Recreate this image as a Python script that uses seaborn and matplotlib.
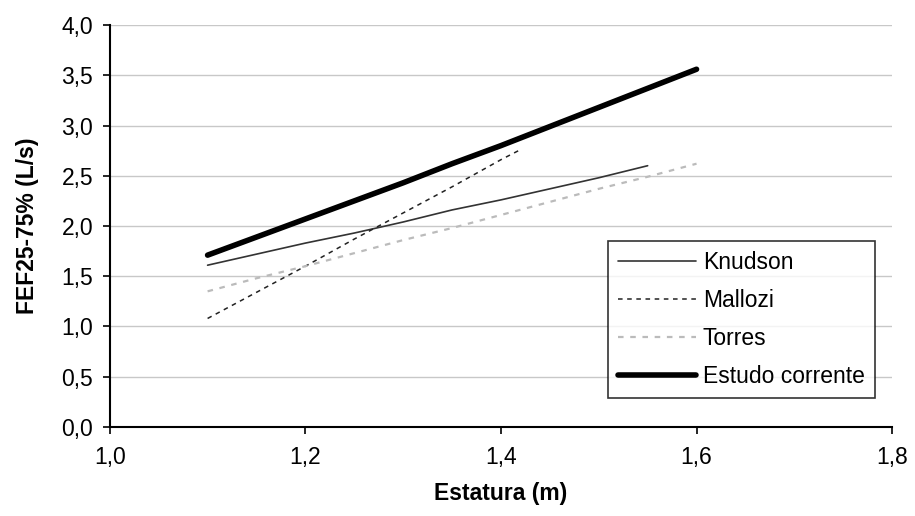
import numpy as np
import pandas as pd
import matplotlib
matplotlib.use('Agg')
import matplotlib.pyplot as plt
from matplotlib.ticker import FuncFormatter
import seaborn as sns

# values
knudson_x = [1.10, 1.15, 1.20, 1.25, 1.30, 1.35, 1.40, 1.45, 1.50, 1.55]
knudson_y = [1.61, 1.72, 1.83, 1.93, 2.04, 2.16, 2.26, 2.37, 2.48, 2.60]

mallozi_x = [1.10, 1.15, 1.20, 1.25, 1.30, 1.35, 1.40, 1.42]
mallozi_y = [1.08, 1.34, 1.60, 1.87, 2.13, 2.39, 2.66, 2.76]

torres_x = [1.10, 1.15, 1.20, 1.25, 1.30, 1.35, 1.40, 1.45, 1.50, 1.55, 1.60]
torres_y = [1.35, 1.48, 1.60, 1.73, 1.86, 1.98, 2.11, 2.24, 2.37, 2.49, 2.62]

estudo_x = [1.10, 1.15, 1.20, 1.25, 1.30, 1.35, 1.40, 1.45, 1.50, 1.55, 1.60]
estudo_y = [1.71, 1.89, 2.07, 2.25, 2.43, 2.62, 2.80, 2.99, 3.18, 3.37, 3.56]

sns.set_style("white")
plt.rcParams['font.family'] = ['Liberation Sans', 'DejaVu Sans']
plt.rcParams['text.color'] = 'black'
plt.rcParams['axes.labelcolor'] = 'black'
FS = 16.5

fig = plt.figure(figsize=(9.15, 5.16), dpi=100)
ax = fig.add_axes([0.120, 0.1725, 0.855, 0.779])

sns.lineplot(x=knudson_x, y=knudson_y, ax=ax, color='#333333', linewidth=1.2,
             label='Knudson')
sns.lineplot(x=mallozi_x, y=mallozi_y, ax=ax, color='#222222', linewidth=1.1,
             linestyle=(0, (3, 3)), label='Mallozi')
sns.lineplot(x=torres_x, y=torres_y, ax=ax, color='#bbbbbb', linewidth=1.6,
             linestyle=(0, (2.5, 3)), label='Torres')
sns.lineplot(x=estudo_x, y=estudo_y, ax=ax, color='black', linewidth=4,
             solid_capstyle='round', label='Estudo corrente')

ax.set_xlim(1.0, 1.8)
ax.set_ylim(0, 4.0)
ax.set_xticks(np.arange(1.0, 1.81, 0.2))
ax.set_yticks(np.arange(0, 4.01, 0.5))
comma = FuncFormatter(lambda v, p: f"{v:.1f}".replace('.', ','))
ax.xaxis.set_major_formatter(comma)
ax.yaxis.set_major_formatter(comma)
ax.tick_params(axis='both', labelsize=FS, direction='out', length=5, width=1.2,
               colors='black', left=True, bottom=True)
ax.tick_params(axis='x', pad=9)
ax.tick_params(axis='y', pad=7)

ax.grid(axis='y', color='#c8c8c8', linewidth=1)
ax.set_axisbelow(True)
for s in ['top', 'right']:
    ax.spines[s].set_visible(False)
for s in ['left', 'bottom']:
    ax.spines[s].set_color('black')
    ax.spines[s].set_linewidth(1.5)

ax.set_xlabel('Estatura (m)', fontsize=FS, fontweight='bold', labelpad=9, color='black')
ax.set_ylabel('FEF25-75% (L/s)', fontsize=FS, fontweight='bold', labelpad=16, color='black')

leg = ax.legend(loc='lower right', bbox_to_anchor=(0.978, 0.072), fontsize=FS,
                frameon=True, fancybox=False, handlelength=3.4, handletextpad=0.3,
                labelspacing=0.65, borderpad=0.45, borderaxespad=0, labelcolor='black')
leg.get_frame().set_edgecolor('black')
leg.get_frame().set_linewidth(1.2)

fig.savefig('out.png', dpi=100)
